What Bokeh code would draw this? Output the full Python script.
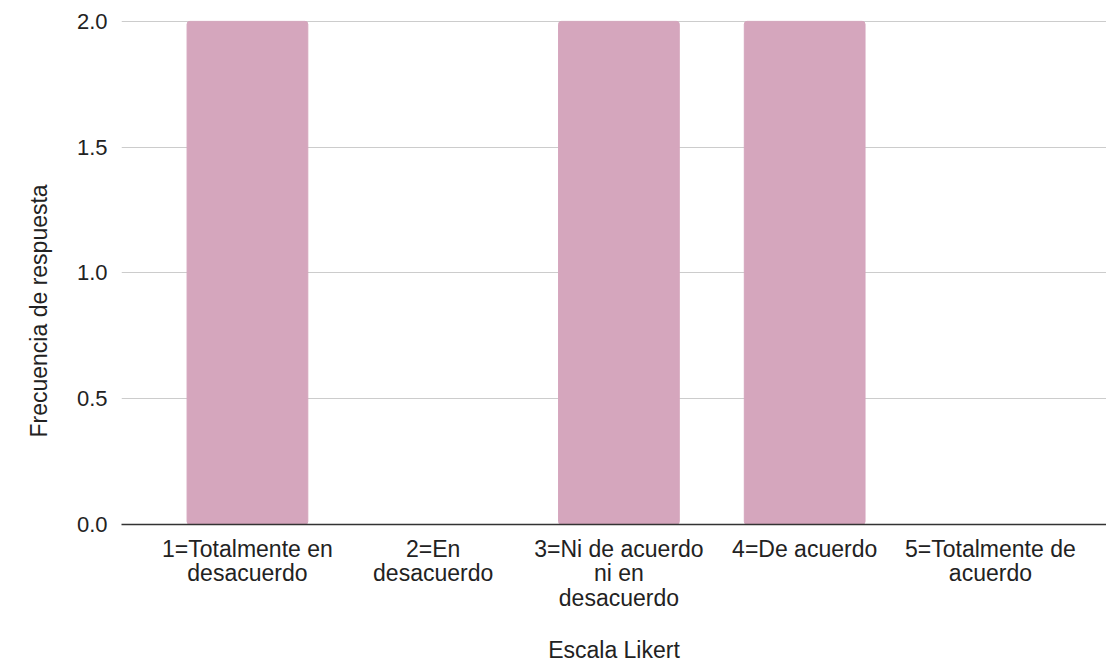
from bokeh.plotting import figure
from bokeh.models import Range1d, FixedTicker, Title
from bokeh.embed import file_html
from bokeh.resources import INLINE

categories = [
    "1=Totalmente en\ndesacuerdo",
    "2=En\ndesacuerdo",
    "3=Ni de acuerdo\nni en\ndesacuerdo",
    "4=De acuerdo",
    "5=Totalmente de\nacuerdo",
]
positions = [1, 2, 3, 4, 5]
frecuencia = [2, 0, 2, 2, 0]
y_ticks = [0.0, 0.5, 1.0, 1.5, 2.0]
y_tick_labels = ["0.0", "0.5", "1.0", "1.5", "2.0"]
x_title = "Escala Likert"
y_title = "Frecuencia de respuesta"

FONT = "Liberation Sans"
TXT = "#222222"

p = figure(
    width=1106, height=665,
    x_range=Range1d(0.322, 5.625), y_range=Range1d(0, 2.003),
    output_backend="svg", toolbar_location=None,
    min_border_left=121, min_border_right=0, min_border_top=20, min_border_bottom=0,
)
p.outline_line_color = None
p.background_fill_color = "white"
p.border_fill_color = "white"

p.vbar(x=positions, top=frecuencia, width=0.65, color="#d5a6bd", border_radius=3)

# x axis
p.xaxis.ticker = FixedTicker(ticks=positions)
p.xaxis.major_label_overrides = {x: c for x, c in zip(positions, categories)}
p.xaxis.axis_label = x_title
p.xaxis.axis_line_color = "#333333"
p.xaxis.axis_line_width = 1.5
p.xaxis.major_tick_line_color = None
p.xaxis.minor_tick_line_color = None
p.xaxis.major_label_standoff = 5
p.xaxis.axis_label_standoff = 23
p.xaxis.major_label_text_line_height = 0.95

# y axis
p.yaxis.ticker = FixedTicker(ticks=y_ticks)
p.yaxis.major_label_overrides = {t: l for t, l in zip(y_ticks, y_tick_labels)}
p.yaxis.axis_line_color = None
p.yaxis.major_tick_line_color = None
p.yaxis.minor_tick_line_color = None
p.yaxis.major_label_standoff = 8

for ax in (p.xaxis, p.yaxis):
    ax.major_label_text_font = FONT
    ax.major_label_text_color = TXT
    ax.axis_label_text_font = FONT
    ax.axis_label_text_font_size = "23px"
    ax.axis_label_text_font_style = "normal"
    ax.axis_label_text_color = TXT
p.xaxis.major_label_text_font_size = "23px"
p.yaxis.major_label_text_font_size = "22px"

# y-axis title as a side title (lets it sit below the vertical centre, as in the original)
p.add_layout(Title(
    text=y_title, align="left", offset=87, standoff=44,
    text_font=FONT, text_font_size="23px", text_font_style="normal",
    text_color=TXT,
), "left")

p.xgrid.grid_line_color = None
p.ygrid.grid_line_color = "#cccccc"
p.ygrid.grid_line_width = 1

open("out.html", "w").write(file_html(p, INLINE))
